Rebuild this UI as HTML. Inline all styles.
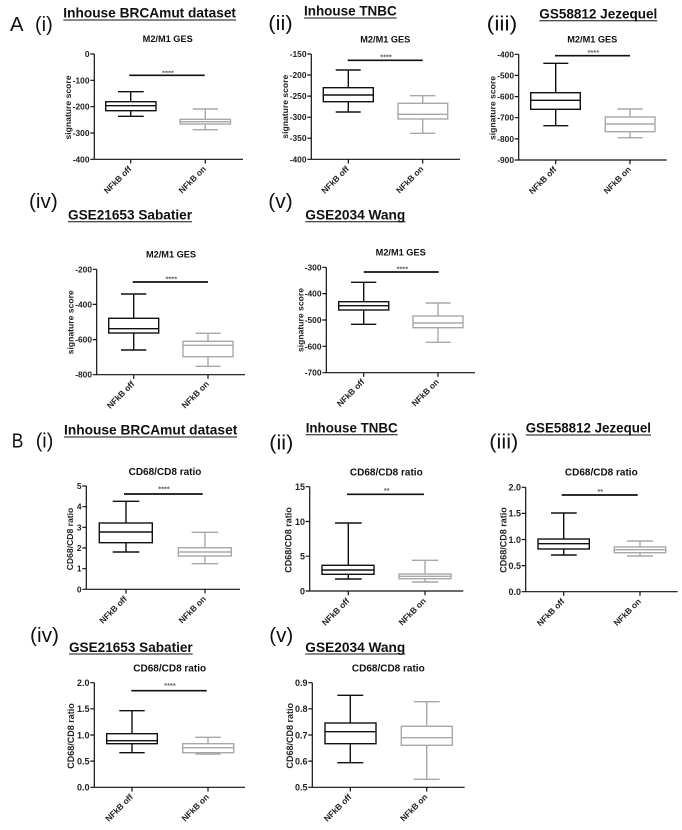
<!DOCTYPE html>
<html><head><meta charset="utf-8"><style>
html,body{margin:0;padding:0;background:#fff}
svg{display:block;filter:blur(.3px)}
text{font-family:"Liberation Sans",sans-serif}
.h{font-weight:bold;font-size:14px;fill:#111}
.p{font-size:20px;fill:#111}
.t{font-weight:bold;font-size:9.2px;text-anchor:middle;fill:#111}
.y{font-weight:bold;font-size:8.4px;text-anchor:end;fill:#222}
.l{font-weight:bold;font-size:8.6px;text-anchor:middle;fill:#222}
.x{font-weight:bold;font-size:8.4px;text-anchor:end;fill:#222}
.s{font-weight:bold;font-size:7.5px;text-anchor:middle;fill:#666}
.a{fill:none;stroke:#111;stroke-width:1.2}
.k{fill:none;stroke:#111;stroke-width:1.4}
.g{fill:none;stroke:#a8a8a8;stroke-width:1.4}
.b{fill:none;stroke:#111;stroke-width:1.7}
.u{fill:none;stroke:#111;stroke-width:1}
</style></head><body>
<svg width="682" height="830" viewBox="0 0 682 830" xmlns="http://www.w3.org/2000/svg">
<rect width="682" height="830" fill="#fff"/>

<!-- Headers -->
<text class="h" x="63.3" y="17.5" textLength="172.7" lengthAdjust="spacingAndGlyphs">Inhouse BRCAmut dataset</text>
<text class="h" x="304" y="15.5" textLength="92.7" lengthAdjust="spacingAndGlyphs">Inhouse TNBC</text>
<text class="h" x="539.3" y="18.5" textLength="118" lengthAdjust="spacingAndGlyphs">GS58812 Jezequel</text>
<text class="h" x="68" y="219.5" textLength="124" lengthAdjust="spacingAndGlyphs">GSE21653 Sabatier</text>
<text class="h" x="305.3" y="219.5" textLength="100" lengthAdjust="spacingAndGlyphs">GSE2034 Wang</text>
<text class="h" x="64" y="434.5" textLength="173.3" lengthAdjust="spacingAndGlyphs">Inhouse BRCAmut dataset</text>
<text class="h" x="305.7" y="432.5" textLength="92" lengthAdjust="spacingAndGlyphs">Inhouse TNBC</text>
<text class="h" x="525.7" y="432.5" textLength="125.3" lengthAdjust="spacingAndGlyphs">GSE58812 Jezequel</text>
<text class="h" x="69" y="652" textLength="123.7" lengthAdjust="spacingAndGlyphs">GSE21653 Sabatier</text>
<text class="h" x="305.3" y="652" textLength="100" lengthAdjust="spacingAndGlyphs">GSE2034 Wang</text>
<path class="u" d="M63.3 20H236M304 18H396.7M539.3 20.7H657.3M68 221.7H192M305.3 221.7H405.3M64 437H237.3M305.7 434.7H397.7M525.7 435H651M69 654H192.7M305.3 654H405.3"/>

<!-- Panel labels -->
<text class="p" x="10" y="31" textLength="13.5" lengthAdjust="spacingAndGlyphs">A</text>
<text class="p" x="35" y="31" textLength="17.7" lengthAdjust="spacingAndGlyphs">(i)</text>
<text class="p" x="268.3" y="30" textLength="24.4" lengthAdjust="spacingAndGlyphs">(ii)</text>
<text class="p" x="486.7" y="30.7" textLength="30.6" lengthAdjust="spacingAndGlyphs">(iii)</text>
<text class="p" x="29" y="208" textLength="28.7" lengthAdjust="spacingAndGlyphs">(iv)</text>
<text class="p" x="268.3" y="208" textLength="24.4" lengthAdjust="spacingAndGlyphs">(v)</text>
<text class="p" x="11.7" y="447.3" textLength="11.6" lengthAdjust="spacingAndGlyphs">B</text>
<text class="p" x="35.7" y="447.3" textLength="17.6" lengthAdjust="spacingAndGlyphs">(i)</text>
<text class="p" x="269.3" y="449.3" textLength="24" lengthAdjust="spacingAndGlyphs">(ii)</text>
<text class="p" x="489.3" y="448.3" textLength="29" lengthAdjust="spacingAndGlyphs">(iii)</text>
<text class="p" x="30" y="642" textLength="29" lengthAdjust="spacingAndGlyphs">(iv)</text>
<text class="p" x="269.3" y="642" textLength="24" lengthAdjust="spacingAndGlyphs">(v)</text>

<!-- A(i) -->
<text class="t" x="167.7" y="42">M2/M1 GES</text>
<text class="l" transform="rotate(-90 71 107.5)" x="71" y="107.5">signature score</text>
<path class="a" d="M94.3 54V159.3M90.3 54H94.3M90.3 80.3H94.3M90.3 106.7H94.3M90.3 133H94.3M90.3 159.3H243M130.7 159.3V163.5M205.3 159.3V163.5"/>
<text class="y" x="89.5" y="57">0</text><text class="y" x="89.5" y="83.3">-100</text><text class="y" x="89.5" y="109.7">-200</text><text class="y" x="89.5" y="136">-300</text><text class="y" x="89.5" y="162.3">-400</text>
<rect class="k" x="105.7" y="101.7" width="50.3" height="9"/><path class="k" d="M130.7 91.7V101.7M130.7 110.7V116.3M118 91.7H143.7M118 116.3H143.7M105.7 105.7H156"/>
<rect class="g" x="180" y="119.3" width="50.5" height="4.7"/><path class="g" d="M205.3 109V119.3M205.3 124V129.7M192.7 109H218M192.7 129.7H218M180 121.7H230.5"/>
<path class="b" d="M129.3 75.3H204.7"/><text class="s" x="168" y="75.5">****</text>
<text class="x" transform="translate(132 169.5) rotate(-45)">NFkB off</text><text class="x" transform="translate(206.5 169.5) rotate(-45)">NFkB on</text>

<!-- A(ii) -->
<text class="t" x="385.3" y="42.5">M2/M1 GES</text>
<text class="l" transform="rotate(-90 288 106.7)" x="288" y="106.7">signature score</text>
<path class="a" d="M311.3 54V159.3M307.3 54H311.3M307.3 75H311.3M307.3 96.1H311.3M307.3 117.2H311.3M307.3 138.2H311.3M307.3 159.3H460M348.3 159.3V163.5M422.7 159.3V163.5"/>
<text class="y" x="306.5" y="57">-150</text><text class="y" x="306.5" y="78">-200</text><text class="y" x="306.5" y="99.1">-250</text><text class="y" x="306.5" y="120.2">-300</text><text class="y" x="306.5" y="141.2">-350</text><text class="y" x="306.5" y="162.3">-400</text>
<rect class="k" x="323.3" y="87.7" width="50" height="14"/><path class="k" d="M348.3 70V87.7M348.3 101.7V112M335.7 70H360.7M335.7 112H360.7M323.3 95H373.3"/>
<rect class="g" x="398" y="103.3" width="49.7" height="15.7"/><path class="g" d="M422.7 95.7V103.3M422.7 119V133.3M410 95.7H435.3M410 133.3H435.3M398 114.3H447.7"/>
<path class="b" d="M347.7 60.3H422.7"/><text class="s" x="386" y="59.5">****</text>
<text class="x" transform="translate(349.5 169.5) rotate(-45)">NFkB off</text><text class="x" transform="translate(424 169.5) rotate(-45)">NFkB on</text>

<!-- A(iii) -->
<text class="t" x="592.3" y="42.5">M2/M1 GES</text>
<text class="l" transform="rotate(-90 495.7 108)" x="495.7" y="108">signature score</text>
<path class="a" d="M518.7 54.3V160M514.7 54.3H518.7M514.7 75.4H518.7M514.7 96.6H518.7M514.7 117.7H518.7M514.7 138.9H518.7M514.7 160H666.7M555.7 160V164.2M630 160V164.2"/>
<text class="y" x="514" y="57.3">-400</text><text class="y" x="514" y="78.4">-500</text><text class="y" x="514" y="99.6">-600</text><text class="y" x="514" y="120.7">-700</text><text class="y" x="514" y="141.9">-800</text><text class="y" x="514" y="163">-900</text>
<rect class="k" x="530.7" y="92.7" width="49.6" height="16.6"/><path class="k" d="M555.7 63.3V92.7M555.7 109.3V125.7M543.3 63.3H568.3M543.3 125.7H568.3M530.7 100.3H580.3"/>
<rect class="g" x="605.3" y="117" width="49.7" height="14.7"/><path class="g" d="M630 109V117M630 131.7V137.7M617.5 109H642.7M617.5 137.7H642.7M605.3 124H655"/>
<path class="b" d="M555 55.7H630"/><text class="s" x="593.3" y="55">****</text>
<text class="x" transform="translate(557 170) rotate(-45)">NFkB off</text><text class="x" transform="translate(631.5 170) rotate(-45)">NFkB on</text>

<!-- A(iv) -->
<text class="t" x="171" y="257.7">M2/M1 GES</text>
<text class="l" transform="rotate(-90 73.7 322.3)" x="73.7" y="322.3">signature score</text>
<path class="a" d="M96.7 269.3V374.7M92.7 269.3H96.7M92.7 304.4H96.7M92.7 339.6H96.7M92.7 374.7H245M133.7 374.7V378.9M208 374.7V378.9"/>
<text class="y" x="92" y="272.3">-200</text><text class="y" x="92" y="307.4">-400</text><text class="y" x="92" y="342.6">-600</text><text class="y" x="92" y="377.7">-800</text>
<rect class="k" x="108.7" y="318.3" width="50" height="14.7"/><path class="k" d="M133.7 294V318.3M133.7 333V350M121 294H146.3M121 350H146.3M108.7 328.7H158.7"/>
<rect class="g" x="183" y="341.3" width="50" height="15.4"/><path class="g" d="M208 333.3V341.3M208 356.7V366.3M195.5 333.3H220.7M195.5 366.3H220.7M183 345.3H233"/>
<path class="b" d="M132.7 282H208"/><text class="s" x="171.3" y="281.5">****</text>
<text class="x" transform="translate(135 384.5) rotate(-45)">NFkB off</text><text class="x" transform="translate(209.5 384.5) rotate(-45)">NFkB on</text>

<!-- A(v) -->
<text class="t" x="400.7" y="255.7">M2/M1 GES</text>
<text class="l" transform="rotate(-90 303.7 320)" x="303.7" y="320">signature score</text>
<path class="a" d="M326.3 267.3V372.7M322.3 267.3H326.3M322.3 293.6H326.3M322.3 320H326.3M322.3 346.3H326.3M322.3 372.7H475M363.7 372.7V376.9M438 372.7V376.9"/>
<text class="y" x="321.5" y="270.3">-300</text><text class="y" x="321.5" y="296.6">-400</text><text class="y" x="321.5" y="323">-500</text><text class="y" x="321.5" y="349.3">-600</text><text class="y" x="321.5" y="375.7">-700</text>
<rect class="k" x="338.7" y="301.7" width="50" height="8.3"/><path class="k" d="M363.7 282.3V301.7M363.7 310V324.3M351 282.3H376.3M351 324.3H376.3M338.7 305.7H388.7"/>
<rect class="g" x="413" y="316" width="50" height="11.7"/><path class="g" d="M438 303V316M438 327.7V342.3M425.5 303H450.7M425.5 342.3H450.7M413 323H463"/>
<path class="b" d="M363.7 272H438.7"/><text class="s" x="402.3" y="271.5">****</text>
<text class="x" transform="translate(365 382.5) rotate(-45)">NFkB off</text><text class="x" transform="translate(439.5 382.5) rotate(-45)">NFkB on</text>

<!-- B(i) -->
<text class="t" x="165" y="475" style="font-size:10px">CD68/CD8 ratio</text>
<text class="l" transform="rotate(-90 73 539)" x="73" y="539">CD68/CD8 ratio</text>
<path class="a" d="M86.3 486V589.3M82.3 486H86.3M82.3 506.7H86.3M82.3 527.3H86.3M82.3 548H86.3M82.3 568.7H86.3M82.3 589.3H240M126 589.3V593.5M205 589.3V593.5"/>
<text class="y" x="81.5" y="489">5</text><text class="y" x="81.5" y="509.7">4</text><text class="y" x="81.5" y="530.3">3</text><text class="y" x="81.5" y="551">2</text><text class="y" x="81.5" y="571.7">1</text><text class="y" x="81.5" y="592.3">0</text>
<rect class="k" x="99.3" y="523" width="53" height="19.7"/><path class="k" d="M126 501.3V523M126 542.7V552M112.7 501.3H139.3M112.7 552H139.3M99.3 532H152.3"/>
<rect class="g" x="178.3" y="547.7" width="53" height="8.3"/><path class="g" d="M205 532.3V547.7M205 556V563.7M191.7 532.3H218.3M191.7 563.7H218.3M178.3 552H231.3"/>
<path class="b" d="M124 494H202.7"/><text class="s" x="164" y="491.5">****</text>
<text class="x" transform="translate(127.5 599.5) rotate(-45)">NFkB off</text><text class="x" transform="translate(206.5 599.5) rotate(-45)">NFkB on</text>

<!-- B(ii) -->
<text class="t" x="386.3" y="475.3" style="font-size:10px">CD68/CD8 ratio</text>
<text class="l" transform="rotate(-90 291.7 540)" x="291.7" y="540" style="font-size:9px">CD68/CD8 ratio</text>
<path class="a" d="M309.7 486.7V591M305.7 486.7H309.7M305.7 521.5H309.7M305.7 556.2H309.7M305.7 591H463.3M348.3 591V595.2M425 591V595.2"/>
<text class="y" x="305" y="490" style="font-size:9px">15</text><text class="y" x="305" y="524.8" style="font-size:9px">10</text><text class="y" x="305" y="559.5" style="font-size:9px">5</text><text class="y" x="305" y="594.3" style="font-size:9px">0</text>
<rect class="k" x="322" y="565.3" width="52" height="9"/><path class="k" d="M348.3 523V565.3M348.3 574.3V579M335 523H361.7M335 579H361.7M322 570H374"/>
<rect class="g" x="399" y="574" width="52" height="4.7"/><path class="g" d="M425 560.3V574M425 578.7V582M411.7 560.3H438.3M411.7 582H438.3M399 576.3H451"/>
<path class="b" d="M347 494.3H424"/><text class="s" x="386.7" y="493">**</text>
<text class="x" transform="translate(350 601.5) rotate(-45)">NFkB off</text><text class="x" transform="translate(426.5 601.5) rotate(-45)">NFkB on</text>

<!-- B(iii) -->
<text class="t" x="601.3" y="475.3" style="font-size:10px">CD68/CD8 ratio</text>
<text class="l" transform="rotate(-90 506.3 540)" x="506.3" y="540" style="font-size:9px">CD68/CD8 ratio</text>
<path class="a" d="M525.7 487.3V591.7M521.7 487.3H525.7M521.7 513.4H525.7M521.7 539.5H525.7M521.7 565.6H525.7M521.7 591.7H677.7M563.7 591.7V595.9M640 591.7V595.9"/>
<text class="y" x="521" y="490.6" style="font-size:9px">2.0</text><text class="y" x="521" y="516.7" style="font-size:9px">1.5</text><text class="y" x="521" y="542.8" style="font-size:9px">1.0</text><text class="y" x="521" y="568.9" style="font-size:9px">0.5</text><text class="y" x="521" y="595" style="font-size:9px">0.0</text>
<rect class="k" x="538" y="539" width="51.3" height="10"/><path class="k" d="M563.7 513V539M563.7 549V555M551 513H576.7M551 555H576.7M538 543.7H589.3"/>
<rect class="g" x="614.3" y="547" width="51.4" height="5.7"/><path class="g" d="M640 541V547M640 552.7V556M627 541H653M627 556H653M614.3 549.7H665.7"/>
<path class="b" d="M561.7 495H637.7"/><text class="s" x="600.3" y="494">**</text>
<text class="x" transform="translate(565 602) rotate(-45)">NFkB off</text><text class="x" transform="translate(641.5 602) rotate(-45)">NFkB on</text>

<!-- B(iv) -->
<text class="t" x="169.7" y="671.7" style="font-size:10px">CD68/CD8 ratio</text>
<text class="l" transform="rotate(-90 74 736)" x="74" y="736" style="font-size:9px">CD68/CD8 ratio</text>
<path class="a" d="M94.3 682.7V787.3M90.3 682.7H94.3M90.3 708.8H94.3M90.3 735H94.3M90.3 761.1H94.3M90.3 787.3H245M132 787.3V791.5M208 787.3V791.5"/>
<text class="y" x="89.5" y="686" style="font-size:9px">2.0</text><text class="y" x="89.5" y="712.1" style="font-size:9px">1.5</text><text class="y" x="89.5" y="738.3" style="font-size:9px">1.0</text><text class="y" x="89.5" y="764.4" style="font-size:9px">0.5</text><text class="y" x="89.5" y="790.6" style="font-size:9px">0.0</text>
<rect class="k" x="106.7" y="733.7" width="50.6" height="10"/><path class="k" d="M132 710.7V733.7M132 743.7V752.7M119.3 710.7H144.7M119.3 752.7H144.7M106.7 740.7H157.3"/>
<rect class="g" x="182.7" y="743.7" width="51" height="9"/><path class="g" d="M208 737.3V743.7M208 752.7V754M195.3 737.3H220.7M195.3 754H220.7M182.7 747.7H233.7"/>
<path class="b" d="M131.3 690.7H206.7"/><text class="s" x="170" y="688">****</text>
<text class="x" transform="translate(133.5 797.5) rotate(-45)">NFkB off</text><text class="x" transform="translate(209.5 797.5) rotate(-45)">NFkB on</text>

<!-- B(v) -->
<text class="t" x="388.3" y="671.7" style="font-size:10px">CD68/CD8 ratio</text>
<text class="l" transform="rotate(-90 293 735.7)" x="293" y="735.7" style="font-size:9px">CD68/CD8 ratio</text>
<path class="a" d="M312.3 682.7V787.3M308.3 682.7H312.3M308.3 708.8H312.3M308.3 735H312.3M308.3 761.1H312.3M308.3 787.3H464.7M350.3 787.3V791.5M426.7 787.3V791.5"/>
<text class="y" x="307.5" y="686" style="font-size:9px">0.9</text><text class="y" x="307.5" y="712.1" style="font-size:9px">0.8</text><text class="y" x="307.5" y="738.3" style="font-size:9px">0.7</text><text class="y" x="307.5" y="764.4" style="font-size:9px">0.6</text><text class="y" x="307.5" y="790.6" style="font-size:9px">0.5</text>
<rect class="k" x="325" y="723" width="51" height="20.7"/><path class="k" d="M350.3 695.3V723M350.3 743.7V762.7M337.3 695.3H363.3M337.3 762.7H363.3M325 731.7H376"/>
<rect class="g" x="401.3" y="726.3" width="51" height="19"/><path class="g" d="M426.7 701.7V726.3M426.7 745.3V779.3M413.7 701.7H439.7M413.7 779.3H439.7M401.3 737.7H452.3"/>
<text class="x" transform="translate(352 797.5) rotate(-45)">NFkB off</text><text class="x" transform="translate(428 797.5) rotate(-45)">NFkB on</text>
</svg>
</body></html>
